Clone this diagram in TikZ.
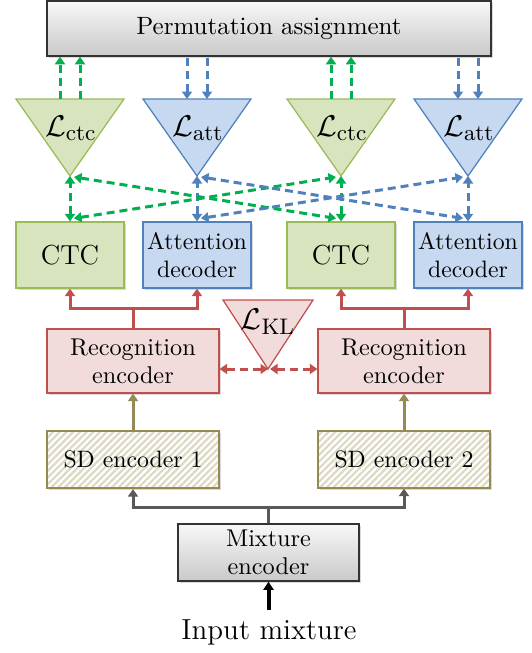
\documentclass[tikz,border=0pt]{standalone}
\usetikzlibrary{arrows.meta,calc,shadows,patterns.meta}
\definecolor{gArrow}{RGB}{0,176,80}
\definecolor{gFill}{RGB}{215,228,189}
\definecolor{gLine}{RGB}{155,187,89}
\definecolor{bFill}{RGB}{198,217,241}
\definecolor{bLine}{RGB}{79,129,189}
\definecolor{rFill}{RGB}{242,220,219}
\definecolor{rLine}{RGB}{192,80,77}
\definecolor{oLine}{RGB}{148,138,84}
\definecolor{oHatch}{RGB}{221,217,195}
\definecolor{grArrow}{RGB}{89,89,89}
\begin{document}
\begin{tikzpicture}[x=0.4pt,y=-0.4pt,
  >={Triangle[length=3pt,width=4pt]},
  shd/.style={drop shadow={shadow xshift=0.7pt,shadow yshift=-0.7pt,opacity=0.3}},
  txt/.style={font=\fontsize{9.5}{11}\selectfont, align=center},
  smallbox/.style={shd, txt, minimum width=43.2pt, minimum height=26.4pt, inner sep=1pt, line width=0.5pt},
  ctcbox/.style={smallbox, draw=gLine, fill=gFill, font=\fontsize{11}{13}\selectfont},
  attbox/.style={smallbox, draw=bLine, fill=bFill},
  widebox/.style={shd, txt, minimum width=68.8pt, inner sep=1pt, line width=0.5pt},
  recbox/.style={widebox, draw=rLine, fill=rFill, minimum height=25.6pt, font=\fontsize{9.7}{11.2}\selectfont},
  sdbox/.style={widebox, draw=oLine, minimum height=22.8pt, preaction={fill=white},
     pattern={Lines[angle=45,distance=1.9pt,line width=0.9pt]}, pattern color=oHatch},
  graybox/.style={shd, txt, draw=black!80, line width=0.6pt, top color=gray!6, bottom color=gray!42, inner sep=1pt},
  gtri/.style={draw=gLine, fill=gFill, line width=0.5pt},
  btri/.style={draw=bLine, fill=bFill, line width=0.5pt},
  rtri/.style={draw=rLine, fill=rFill, line width=0.5pt},
  lfont/.style={font=\fontsize{12.8}{14}\selectfont},
  garrow/.style={draw=gArrow, line width=1.2pt, dash pattern=on 3.2pt off 2pt},
  barrow/.style={draw=bLine, line width=1.2pt, dash pattern=on 3.2pt off 2pt},
  rdash/.style={draw=rLine, line width=1.2pt, dash pattern=on 3.2pt off 2pt},
  rline/.style={draw=rLine, line width=1.2pt},
  oarrow/.style={draw=oLine, line width=1.2pt},
  grline/.style={draw=grArrow, line width=1.2pt},
]
\useasboundingbox (0,0) rectangle (532,653);

% Permutation assignment
\node[graybox, minimum width=177.6pt, minimum height=22pt, font=\fontsize{10}{12}\selectfont] (perm) at (269,28.5) {Permutation assignment};

% Loss triangles
\draw[gtri] (16,99) -- (124,99) -- (70,176) -- cycle;
\draw[btri] (143,99) -- (251,99) -- (197,176) -- cycle;
\draw[gtri] (287,99) -- (395,99) -- (341,176) -- cycle;
\draw[btri] (414,99) -- (522,99) -- (468,176) -- cycle;
\coordinate (Tc1) at (70,99);  \coordinate (Ac1) at (70,176);
\coordinate (Ta1) at (197,99); \coordinate (Aa1) at (197,176);
\coordinate (Tc2) at (341,99); \coordinate (Ac2) at (341,176);
\coordinate (Ta2) at (468,99); \coordinate (Aa2) at (468,176);
\node[lfont] (Lc1) at (71,128) {$\mathcal{L}_{\mathrm{ctc}}$};
\node[lfont] (La1) at (198,128) {$\mathcal{L}_{\mathrm{att}}$};
\node[lfont] (Lc2) at (342,128) {$\mathcal{L}_{\mathrm{ctc}}$};
\node[lfont] (La2) at (469,128) {$\mathcal{L}_{\mathrm{att}}$};

% Second-row boxes
\node[ctcbox] (ctc1) at (70,255) {CTC};
\node[attbox] (att1) at (197,255) {Attention\\decoder};
\node[ctcbox] (ctc2) at (341,255) {CTC};
\node[attbox] (att2) at (468,255) {Attention\\decoder};

% Arrows to permutation assignment
\coordinate (c1l) at ($(Tc1)+(-10,0)$); \coordinate (c1r) at ($(Tc1)+(10,0)$);
\coordinate (a1l) at ($(Ta1)+(-10,0)$); \coordinate (a1r) at ($(Ta1)+(10,0)$);
\coordinate (c2l) at ($(Tc2)+(-10,0)$); \coordinate (c2r) at ($(Tc2)+(10,0)$);
\coordinate (a2l) at ($(Ta2)+(-10,0)$); \coordinate (a2r) at ($(Ta2)+(10,0)$);
\draw[garrow,->] (c1l) -- (c1l |- perm.south);
\draw[garrow,->] (c1r) -- (c1r |- perm.south);
\draw[garrow,->] (c2l) -- (c2l |- perm.south);
\draw[garrow,->] (c2r) -- (c2r |- perm.south);
\draw[barrow,<-] (a1l) -- (a1l |- perm.south);
\draw[barrow,<-] (a1r) -- (a1r |- perm.south);
\draw[barrow,<-] (a2l) -- (a2l |- perm.south);
\draw[barrow,<-] (a2r) -- (a2r |- perm.south);

% Vertical double arrows box <-> loss
\draw[garrow,<->] (ctc1.north) -- (Ac1);
\draw[garrow,<->] (ctc2.north) -- (Ac2);
\draw[barrow,<->] (att1.north) -- (Aa1);
\draw[barrow,<->] (att2.north) -- (Aa2);

% Cross arrows
\draw[garrow,<->] ($(Ac1)+(4,1)$) -- ($(ctc2.north)+(-5,-3)$);
\draw[garrow,<->] ($(ctc1.north)+(4,-3)$) -- ($(Ac2)+(-5,1)$);
\draw[barrow,<->] ($(Aa1)+(4,1)$) -- ($(att2.north)+(-5,-3)$);
\draw[barrow,<->] ($(att1.north)+(4,-3)$) -- ($(Aa2)+(-5,1)$);

% Recognition encoders
\node[recbox] (rec1) at (133,361) {Recognition\\encoder};
\node[recbox] (rec2) at (404,361) {Recognition\\encoder};
\coordinate (r1) at (133,308);
\coordinate (r2) at (404,308);
\draw[rline] (rec1.north) -- (r1);
\draw[rline,->] (r1) -| (ctc1.south);
\draw[rline,->] (r1) -| (att1.south);
\draw[rline] (rec2.north) -- (r2);
\draw[rline,->] (r2) -| (ctc2.south);
\draw[rline,->] (r2) -| (att2.south);

% KL loss
\draw[rtri] (223,300) -- (313,300) -- (268,369) -- cycle;
\coordinate (Akl) at (268,369);
\node[lfont] (Lkl) at (268,322) {$\mathcal{L}_{\mathrm{KL}}$};
\draw[rdash,<->] (rec1.east |- Akl) -- (Akl);
\draw[rdash,<->] ($(Akl)+(2,0)$) -- (rec2.west |- Akl);

% SD encoders
\node[sdbox] (sd1) at (133,459.5) {SD encoder 1};
\node[sdbox] (sd2) at (404,459.5) {SD encoder 2};
\draw[oarrow,->] (sd1.north) -- (rec1.south);
\draw[oarrow,->] (sd2.north) -- (rec2.south);

% Mixture encoder
\node[graybox, minimum width=72.4pt, minimum height=22.8pt, font=\fontsize{9.7}{11.2}\selectfont] (mix) at (268.5,552.5) {Mixture\\encoder};
\coordinate (g) at (268.5,507);
\draw[grline] (mix.north) -- (g);
\draw[grline,->] (g) -| (sd1.south);
\draw[grline,->] (g) -| (sd2.south);

% Input
\node[font=\fontsize{11.6}{13}\selectfont, inner sep=1pt] (inp) at (269,632) {Input mixture};
\coordinate (in) at (268.5,610);
\draw[black, line width=1.6pt, -{Triangle[length=3.2pt,width=4pt]}] (in) -- (mix.south);
\end{tikzpicture}
\end{document}
